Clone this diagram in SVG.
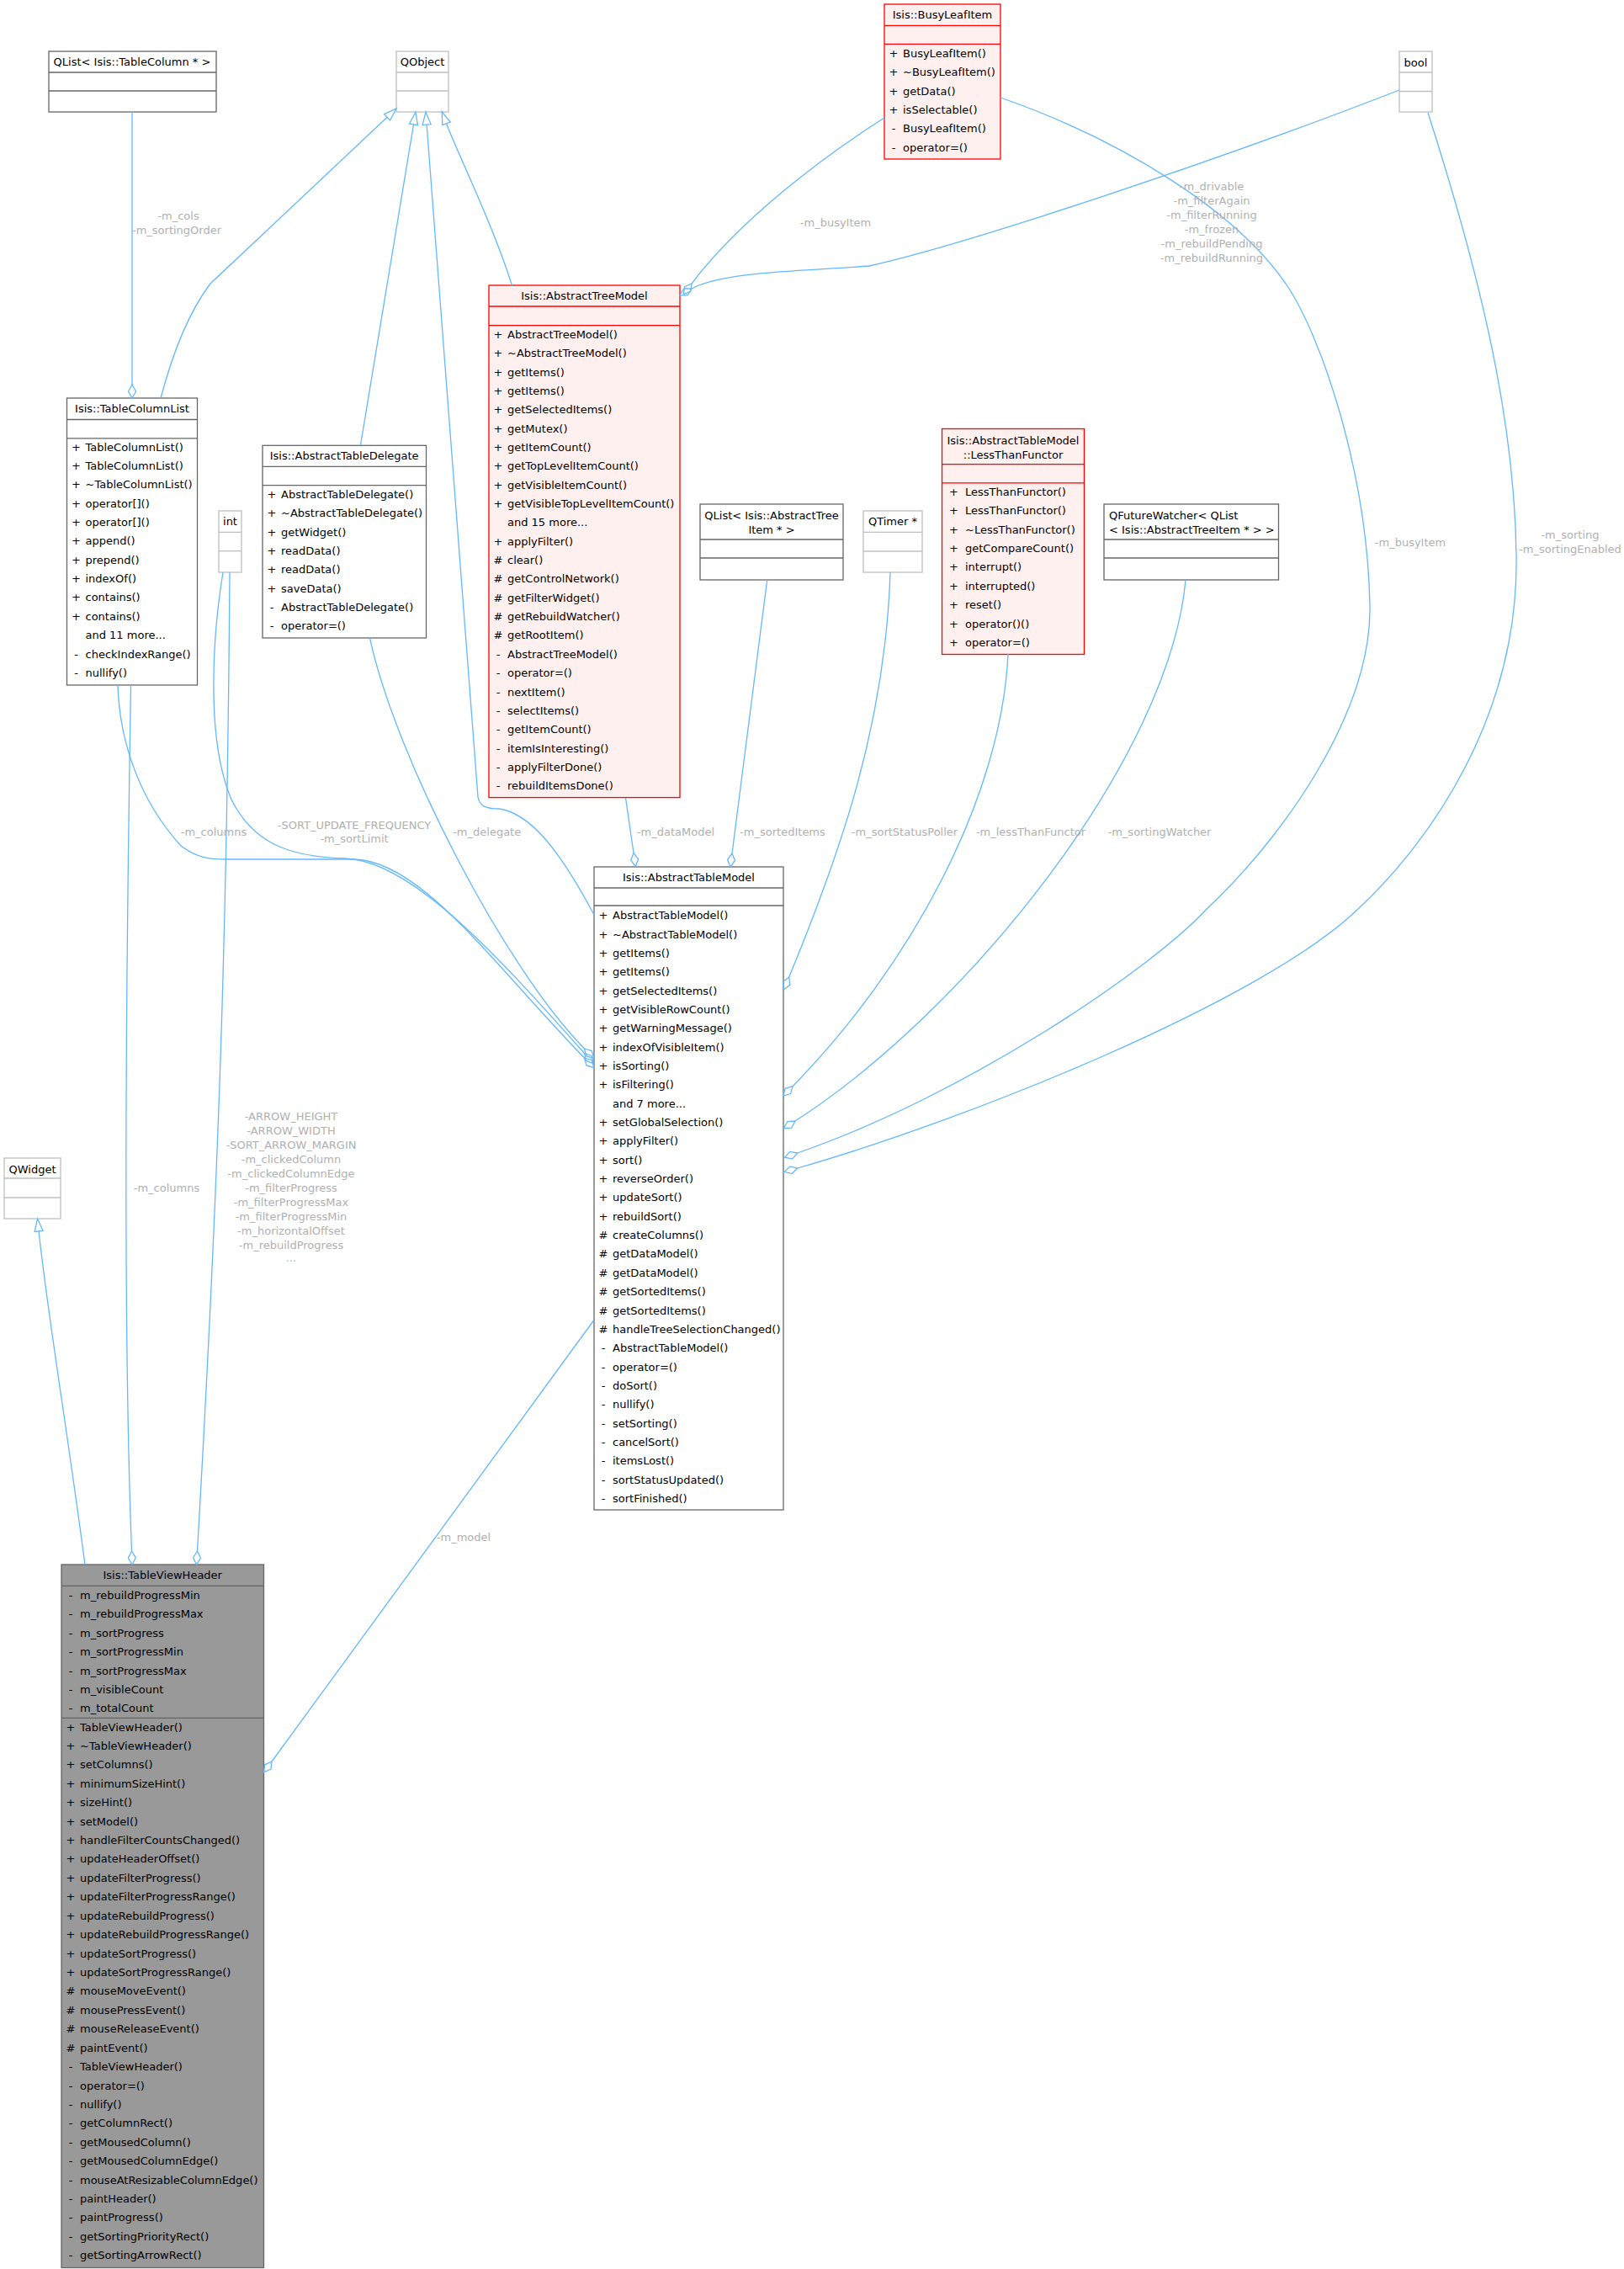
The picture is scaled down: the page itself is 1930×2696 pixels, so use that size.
<svg xmlns="http://www.w3.org/2000/svg" width="1930" height="2696" viewBox="0 0 1930 2696">
<style>
text{font-family:"DejaVu Sans","Liberation Sans",sans-serif;font-size:13px;fill:#000}
.c{text-anchor:middle}
.s{text-anchor:middle}
.nb{fill:#fff;stroke:#666;stroke-width:1.3}
.ng{fill:#fff;stroke:#bfbfbf;stroke-width:1.3}
.nr{fill:#fff0f0;stroke:#ff0000;stroke-width:1.3}
.nd{fill:#999;stroke:#666;stroke-width:1.3}
.lb{stroke:#666;stroke-width:1.3}
.lg{stroke:#bfbfbf;stroke-width:1.3}
.lr{stroke:#ff0000;stroke-width:1.3}
.e{fill:none;stroke:#63b8ff;stroke-width:1.3}
.dia{marker-end:url(#dia)}
.tri{marker-end:url(#tri)}
.lbl{fill:#b0b0b0;text-anchor:middle}
</style>
<defs>
<marker id="dia" markerUnits="userSpaceOnUse" markerWidth="20" markerHeight="12" refX="0" refY="0" orient="auto" style="overflow:visible">
<path d="M0,0 L8,-4.5 L16,0 L8,4.5 Z" fill="none" stroke="#63b8ff" stroke-width="1.3"/>
</marker>
<marker id="tri" markerUnits="userSpaceOnUse" markerWidth="20" markerHeight="12" refX="0" refY="0" orient="auto" style="overflow:visible">
<path d="M0,-5 L15,0 L0,5 Z" fill="#fff" stroke="#63b8ff" stroke-width="1.3"/>
</marker>
</defs>
<rect width="1930" height="2696" fill="#fff"/>

<g id="node-qlist-tablecolumn">
<rect class="nb" x="58" y="61" width="199" height="72"/>
<line class="lb" x1="58" y1="86" x2="257" y2="86"/>
<line class="lb" x1="58" y1="108" x2="257" y2="108"/>
<text class="c" x="157" y="78">QList&lt; Isis::TableColumn * &gt;</text>
</g>

<g id="node-qobject">
<rect class="ng" x="471" y="61" width="62" height="72"/>
<line class="lg" x1="471" y1="86" x2="533" y2="86"/>
<line class="lg" x1="471" y1="108" x2="533" y2="108"/>
<text class="c" x="502" y="78">QObject</text>
</g>

<g id="node-bool">
<rect class="ng" x="1663" y="61" width="39" height="72"/>
<line class="lg" x1="1663" y1="86" x2="1702" y2="86"/>
<line class="lg" x1="1663" y1="108.5" x2="1702" y2="108.5"/>
<text class="c" x="1682.5" y="78.5">bool</text>
</g>

<g id="node-busyleafitem">
<rect class="nr" x="1051" y="5" width="138" height="184"/>
<line class="lr" x1="1051" y1="30.3" x2="1189" y2="30.3"/>
<line class="lr" x1="1051" y1="52.3" x2="1189" y2="52.3"/>
<text class="c" x="1120" y="22">Isis::BusyLeafItem</text>
<text class="s" x="1062" y="67.8">+</text><text x="1073" y="67.8">BusyLeafItem()</text>
<text class="s" x="1062" y="90.2">+</text><text x="1073" y="90.2">~BusyLeafItem()</text>
<text class="s" x="1062" y="112.6">+</text><text x="1073" y="112.6">getData()</text>
<text class="s" x="1062" y="135">+</text><text x="1073" y="135">isSelectable()</text>
<text class="s" x="1062" y="157.4">-</text><text x="1073" y="157.4">BusyLeafItem()</text>
<text class="s" x="1062" y="179.8">-</text><text x="1073" y="179.8">operator=()</text>
</g>

<g id="node-abstracttreemodel">
<rect class="nr" x="581" y="339" width="227" height="608.6"/>
<line class="lr" x1="581" y1="364" x2="808" y2="364"/>
<line class="lr" x1="581" y1="386.7" x2="808" y2="386.7"/>
<text class="c" x="694.5" y="356">Isis::AbstractTreeModel</text>
<text class="s" x="592" y="401.8">+</text><text x="603" y="401.8">AbstractTreeModel()</text>
<text class="s" x="592" y="424.2">+</text><text x="603" y="424.2">~AbstractTreeModel()</text>
<text class="s" x="592" y="446.5">+</text><text x="603" y="446.5">getItems()</text>
<text class="s" x="592" y="468.9">+</text><text x="603" y="468.9">getItems()</text>
<text class="s" x="592" y="491.2">+</text><text x="603" y="491.2">getSelectedItems()</text>
<text class="s" x="592" y="513.6">+</text><text x="603" y="513.6">getMutex()</text>
<text class="s" x="592" y="535.9">+</text><text x="603" y="535.9">getItemCount()</text>
<text class="s" x="592" y="558.3">+</text><text x="603" y="558.3">getTopLevelItemCount()</text>
<text class="s" x="592" y="580.6">+</text><text x="603" y="580.6">getVisibleItemCount()</text>
<text class="s" x="592" y="603">+</text><text x="603" y="603">getVisibleTopLevelItemCount()</text>
<text x="603" y="625.3">and 15 more...</text>
<text class="s" x="592" y="647.7">+</text><text x="603" y="647.7">applyFilter()</text>
<text class="s" x="592" y="670">#</text><text x="603" y="670">clear()</text>
<text class="s" x="592" y="692.4">#</text><text x="603" y="692.4">getControlNetwork()</text>
<text class="s" x="592" y="714.7">#</text><text x="603" y="714.7">getFilterWidget()</text>
<text class="s" x="592" y="737.1">#</text><text x="603" y="737.1">getRebuildWatcher()</text>
<text class="s" x="592" y="759.4">#</text><text x="603" y="759.4">getRootItem()</text>
<text class="s" x="592" y="781.8">-</text><text x="603" y="781.8">AbstractTreeModel()</text>
<text class="s" x="592" y="804.1">-</text><text x="603" y="804.1">operator=()</text>
<text class="s" x="592" y="826.5">-</text><text x="603" y="826.5">nextItem()</text>
<text class="s" x="592" y="848.8">-</text><text x="603" y="848.8">selectItems()</text>
<text class="s" x="592" y="871.2">-</text><text x="603" y="871.2">getItemCount()</text>
<text class="s" x="592" y="893.5">-</text><text x="603" y="893.5">itemIsInteresting()</text>
<text class="s" x="592" y="915.9">-</text><text x="603" y="915.9">applyFilterDone()</text>
<text class="s" x="592" y="938.2">-</text><text x="603" y="938.2">rebuildItemsDone()</text>
</g>

<g id="node-tablecolumnlist">
<rect class="nb" x="79.5" y="473" width="155" height="341"/>
<line class="lb" x1="79.5" y1="498.5" x2="234.5" y2="498.5"/>
<line class="lb" x1="79.5" y1="520.8" x2="234.5" y2="520.8"/>
<text class="c" x="157" y="490">Isis::TableColumnList</text>
<text class="s" x="90.5" y="535.6">+</text><text x="101.5" y="535.6">TableColumnList()</text>
<text class="s" x="90.5" y="558">+</text><text x="101.5" y="558">TableColumnList()</text>
<text class="s" x="90.5" y="580.3">+</text><text x="101.5" y="580.3">~TableColumnList()</text>
<text class="s" x="90.5" y="602.7">+</text><text x="101.5" y="602.7">operator[]()</text>
<text class="s" x="90.5" y="625">+</text><text x="101.5" y="625">operator[]()</text>
<text class="s" x="90.5" y="647.4">+</text><text x="101.5" y="647.4">append()</text>
<text class="s" x="90.5" y="669.7">+</text><text x="101.5" y="669.7">prepend()</text>
<text class="s" x="90.5" y="692.1">+</text><text x="101.5" y="692.1">indexOf()</text>
<text class="s" x="90.5" y="714.4">+</text><text x="101.5" y="714.4">contains()</text>
<text class="s" x="90.5" y="736.8">+</text><text x="101.5" y="736.8">contains()</text>
<text x="101.5" y="759.1">and 11 more...</text>
<text class="s" x="90.5" y="781.5">-</text><text x="101.5" y="781.5">checkIndexRange()</text>
<text class="s" x="90.5" y="803.8">-</text><text x="101.5" y="803.8">nullify()</text>
</g>

<g id="node-int">
<rect class="ng" x="260" y="607" width="27" height="73"/>
<line class="lg" x1="260" y1="632.4" x2="287" y2="632.4"/>
<line class="lg" x1="260" y1="654.7" x2="287" y2="654.7"/>
<text class="c" x="273.5" y="624">int</text>
</g>

<g id="node-abstracttabledelegate">
<rect class="nb" x="312" y="529.3" width="194.5" height="228.7"/>
<line class="lb" x1="312" y1="554.3" x2="506.5" y2="554.3"/>
<line class="lb" x1="312" y1="576.6" x2="506.5" y2="576.6"/>
<text class="c" x="409.2" y="546">Isis::AbstractTableDelegate</text>
<text class="s" x="323" y="591.8">+</text><text x="334" y="591.8">AbstractTableDelegate()</text>
<text class="s" x="323" y="614.2">+</text><text x="334" y="614.2">~AbstractTableDelegate()</text>
<text class="s" x="323" y="636.5">+</text><text x="334" y="636.5">getWidget()</text>
<text class="s" x="323" y="658.9">+</text><text x="334" y="658.9">readData()</text>
<text class="s" x="323" y="681.2">+</text><text x="334" y="681.2">readData()</text>
<text class="s" x="323" y="703.6">+</text><text x="334" y="703.6">saveData()</text>
<text class="s" x="323" y="725.9">-</text><text x="334" y="725.9">AbstractTableDelegate()</text>
<text class="s" x="323" y="748.3">-</text><text x="334" y="748.3">operator=()</text>
</g>

<g id="node-qlist-abstracttreeitem">
<rect class="nb" x="832" y="599" width="170" height="90"/>
<line class="lb" x1="832" y1="641" x2="1002" y2="641"/>
<line class="lb" x1="832" y1="663" x2="1002" y2="663"/>
<text class="c" x="917" y="617">QList&lt; Isis::AbstractTree</text>
<text class="c" x="917" y="634">Item * &gt;</text>
</g>

<g id="node-qtimer">
<rect class="ng" x="1026" y="607" width="70" height="73"/>
<line class="lg" x1="1026" y1="632.3" x2="1096" y2="632.3"/>
<line class="lg" x1="1026" y1="655" x2="1096" y2="655"/>
<text class="c" x="1061" y="624">QTimer *</text>
</g>

<g id="node-lessthanfunctor">
<rect class="nr" x="1119.5" y="509.5" width="169" height="268"/>
<line class="lr" x1="1119.5" y1="551.6" x2="1288.5" y2="551.6"/>
<line class="lr" x1="1119.5" y1="573.8" x2="1288.5" y2="573.8"/>
<text class="c" x="1204" y="527.7">Isis::AbstractTableModel</text>
<text class="c" x="1204" y="544.7">::LessThanFunctor</text>
<text class="s" x="1133.5" y="589">+</text><text x="1147" y="589">LessThanFunctor()</text>
<text class="s" x="1133.5" y="611.4">+</text><text x="1147" y="611.4">LessThanFunctor()</text>
<text class="s" x="1133.5" y="633.7">+</text><text x="1147" y="633.7">~LessThanFunctor()</text>
<text class="s" x="1133.5" y="656.1">+</text><text x="1147" y="656.1">getCompareCount()</text>
<text class="s" x="1133.5" y="678.4">+</text><text x="1147" y="678.4">interrupt()</text>
<text class="s" x="1133.5" y="700.8">+</text><text x="1147" y="700.8">interrupted()</text>
<text class="s" x="1133.5" y="723.1">+</text><text x="1147" y="723.1">reset()</text>
<text class="s" x="1133.5" y="745.5">+</text><text x="1147" y="745.5">operator()()</text>
<text class="s" x="1133.5" y="767.8">+</text><text x="1147" y="767.8">operator=()</text>
</g>

<g id="node-qfuturewatcher">
<rect class="nb" x="1312" y="599" width="207.5" height="90"/>
<line class="lb" x1="1312" y1="641" x2="1519.5" y2="641"/>
<line class="lb" x1="1312" y1="663" x2="1519.5" y2="663"/>
<text x="1318" y="617">QFutureWatcher&lt; QList</text>
<text x="1318" y="634">&lt; Isis::AbstractTreeItem * &gt; &gt;</text>
</g>

<g id="node-abstracttablemodel">
<rect class="nb" x="706" y="1030" width="225" height="764"/>
<line class="lb" x1="706" y1="1055" x2="931" y2="1055"/>
<line class="lb" x1="706" y1="1076" x2="931" y2="1076"/>
<text class="c" x="818.5" y="1047">Isis::AbstractTableModel</text>
<text class="s" x="717" y="1092.1">+</text><text x="728" y="1092.1">AbstractTableModel()</text>
<text class="s" x="717" y="1114.5">+</text><text x="728" y="1114.5">~AbstractTableModel()</text>
<text class="s" x="717" y="1136.8">+</text><text x="728" y="1136.8">getItems()</text>
<text class="s" x="717" y="1159.2">+</text><text x="728" y="1159.2">getItems()</text>
<text class="s" x="717" y="1181.5">+</text><text x="728" y="1181.5">getSelectedItems()</text>
<text class="s" x="717" y="1203.9">+</text><text x="728" y="1203.9">getVisibleRowCount()</text>
<text class="s" x="717" y="1226.2">+</text><text x="728" y="1226.2">getWarningMessage()</text>
<text class="s" x="717" y="1248.6">+</text><text x="728" y="1248.6">indexOfVisibleItem()</text>
<text class="s" x="717" y="1270.9">+</text><text x="728" y="1270.9">isSorting()</text>
<text class="s" x="717" y="1293.3">+</text><text x="728" y="1293.3">isFiltering()</text>
<text x="728" y="1315.6">and 7 more...</text>
<text class="s" x="717" y="1338">+</text><text x="728" y="1338">setGlobalSelection()</text>
<text class="s" x="717" y="1360.3">+</text><text x="728" y="1360.3">applyFilter()</text>
<text class="s" x="717" y="1382.7">+</text><text x="728" y="1382.7">sort()</text>
<text class="s" x="717" y="1405">+</text><text x="728" y="1405">reverseOrder()</text>
<text class="s" x="717" y="1427.4">+</text><text x="728" y="1427.4">updateSort()</text>
<text class="s" x="717" y="1449.7">+</text><text x="728" y="1449.7">rebuildSort()</text>
<text class="s" x="717" y="1472.1">#</text><text x="728" y="1472.1">createColumns()</text>
<text class="s" x="717" y="1494.4">#</text><text x="728" y="1494.4">getDataModel()</text>
<text class="s" x="717" y="1516.8">#</text><text x="728" y="1516.8">getDataModel()</text>
<text class="s" x="717" y="1539.1">#</text><text x="728" y="1539.1">getSortedItems()</text>
<text class="s" x="717" y="1561.5">#</text><text x="728" y="1561.5">getSortedItems()</text>
<text class="s" x="717" y="1583.8">#</text><text x="728" y="1583.8">handleTreeSelectionChanged()</text>
<text class="s" x="717" y="1606.2">-</text><text x="728" y="1606.2">AbstractTableModel()</text>
<text class="s" x="717" y="1628.5">-</text><text x="728" y="1628.5">operator=()</text>
<text class="s" x="717" y="1650.9">-</text><text x="728" y="1650.9">doSort()</text>
<text class="s" x="717" y="1673.2">-</text><text x="728" y="1673.2">nullify()</text>
<text class="s" x="717" y="1695.6">-</text><text x="728" y="1695.6">setSorting()</text>
<text class="s" x="717" y="1717.9">-</text><text x="728" y="1717.9">cancelSort()</text>
<text class="s" x="717" y="1740.3">-</text><text x="728" y="1740.3">itemsLost()</text>
<text class="s" x="717" y="1762.6">-</text><text x="728" y="1762.6">sortStatusUpdated()</text>
<text class="s" x="717" y="1785">-</text><text x="728" y="1785">sortFinished()</text>
</g>

<g id="node-qwidget">
<rect class="ng" x="5" y="1376" width="67" height="72"/>
<line class="lg" x1="5" y1="1400" x2="72" y2="1400"/>
<line class="lg" x1="5" y1="1423" x2="72" y2="1423"/>
<text class="c" x="38.5" y="1393.5">QWidget</text>
</g>

<g id="node-tableviewheader">
<rect class="nd" x="73" y="1859" width="240.5" height="835.5"/>
<line class="lb" x1="73" y1="1884.4" x2="313.5" y2="1884.4"/>
<line class="lb" x1="73" y1="2041.3" x2="313.5" y2="2041.3"/>
<text class="c" x="193.2" y="1876">Isis::TableViewHeader</text>
<text class="s" x="84" y="1899.9">-</text><text x="95" y="1899.9">m_rebuildProgressMin</text>
<text class="s" x="84" y="1922.3">-</text><text x="95" y="1922.3">m_rebuildProgressMax</text>
<text class="s" x="84" y="1944.7">-</text><text x="95" y="1944.7">m_sortProgress</text>
<text class="s" x="84" y="1967.2">-</text><text x="95" y="1967.2">m_sortProgressMin</text>
<text class="s" x="84" y="1989.6">-</text><text x="95" y="1989.6">m_sortProgressMax</text>
<text class="s" x="84" y="2012">-</text><text x="95" y="2012">m_visibleCount</text>
<text class="s" x="84" y="2034.4">-</text><text x="95" y="2034.4">m_totalCount</text>
<text class="s" x="84" y="2056.5">+</text><text x="95" y="2056.5">TableViewHeader()</text>
<text class="s" x="84" y="2078.9">+</text><text x="95" y="2078.9">~TableViewHeader()</text>
<text class="s" x="84" y="2101.3">+</text><text x="95" y="2101.3">setColumns()</text>
<text class="s" x="84" y="2123.8">+</text><text x="95" y="2123.8">minimumSizeHint()</text>
<text class="s" x="84" y="2146.2">+</text><text x="95" y="2146.2">sizeHint()</text>
<text class="s" x="84" y="2168.6">+</text><text x="95" y="2168.6">setModel()</text>
<text class="s" x="84" y="2191">+</text><text x="95" y="2191">handleFilterCountsChanged()</text>
<text class="s" x="84" y="2213.4">+</text><text x="95" y="2213.4">updateHeaderOffset()</text>
<text class="s" x="84" y="2235.9">+</text><text x="95" y="2235.9">updateFilterProgress()</text>
<text class="s" x="84" y="2258.3">+</text><text x="95" y="2258.3">updateFilterProgressRange()</text>
<text class="s" x="84" y="2280.7">+</text><text x="95" y="2280.7">updateRebuildProgress()</text>
<text class="s" x="84" y="2303.1">+</text><text x="95" y="2303.1">updateRebuildProgressRange()</text>
<text class="s" x="84" y="2325.5">+</text><text x="95" y="2325.5">updateSortProgress()</text>
<text class="s" x="84" y="2348">+</text><text x="95" y="2348">updateSortProgressRange()</text>
<text class="s" x="84" y="2370.4">#</text><text x="95" y="2370.4">mouseMoveEvent()</text>
<text class="s" x="84" y="2392.8">#</text><text x="95" y="2392.8">mousePressEvent()</text>
<text class="s" x="84" y="2415.2">#</text><text x="95" y="2415.2">mouseReleaseEvent()</text>
<text class="s" x="84" y="2437.6">#</text><text x="95" y="2437.6">paintEvent()</text>
<text class="s" x="84" y="2460.1">-</text><text x="95" y="2460.1">TableViewHeader()</text>
<text class="s" x="84" y="2482.5">-</text><text x="95" y="2482.5">operator=()</text>
<text class="s" x="84" y="2504.9">-</text><text x="95" y="2504.9">nullify()</text>
<text class="s" x="84" y="2527.3">-</text><text x="95" y="2527.3">getColumnRect()</text>
<text class="s" x="84" y="2549.7">-</text><text x="95" y="2549.7">getMousedColumn()</text>
<text class="s" x="84" y="2572.2">-</text><text x="95" y="2572.2">getMousedColumnEdge()</text>
<text class="s" x="84" y="2594.6">-</text><text x="95" y="2594.6">mouseAtResizableColumnEdge()</text>
<text class="s" x="84" y="2617">-</text><text x="95" y="2617">paintHeader()</text>
<text class="s" x="84" y="2639.4">-</text><text x="95" y="2639.4">paintProgress()</text>
<text class="s" x="84" y="2661.8">-</text><text x="95" y="2661.8">getSortingPriorityRect()</text>
<text class="s" x="84" y="2684.3">-</text><text x="95" y="2684.3">getSortingArrowRect()</text>
</g>

<g id="connectors">
<path class="e dia" d="M157,133 L157,457"/>
<path class="e tri" d="M191,473 C205,420 225,370 250,337 L460.1,139.3"/>
<path class="e tri" d="M428.4,529.3 L491.5,147.8"/>
<path class="e tri" d="M706,1087 C665,1010 630,966 593,961 C578,961 570,958 568,947 L507.1,148"/>
<path class="e tri" d="M608.5,339.3 C585,265 545,185 530.5,146.8"/>
<path class="e dia" d="M1051,140 C980,185 880,260 822,337"/>
<path class="e dia" d="M1663,107 C1450,190 1150,290 1033,316 C960,322 860,322 822,343"/>
<path class="e dia" d="M1189,116 C1330,165 1470,250 1530,340 C1570,400 1625,560 1628,720 C1630,850 1520,1000 1434,1080 C1370,1150 1150,1300 947.7,1370"/>
<path class="e dia" d="M1697,134 C1760,330 1800,500 1802,660 C1805,850 1700,1000 1614,1080 C1500,1190 1150,1330 947.7,1388"/>
<path class="e dia" d="M1058,680 C1052,860 1000,1010 937.7,1161"/>
<path class="e dia" d="M1198,777 C1190,950 1080,1150 942,1290.7"/>
<path class="e dia" d="M1409,689 C1390,900 1150,1200 945,1332"/>
<path class="e dia" d="M911.7,689 L870,1014"/>
<path class="e dia" d="M743.5,948 L753,1013.5"/>
<path class="e dia" d="M140,814 C142,880 165,950 215,1005 C235,1020 250,1021 270,1021 L420,1021 C500,1021 590,1150 694.5,1257"/>
<path class="e dia" d="M265,680 C252,760 245,880 275,950 C300,1000 340,1018 410,1020 C490,1022 595,1140 694.5,1251.5"/>
<path class="e dia" d="M439.5,758 C470,900 600,1150 694.5,1246"/>
<path class="e dia" d="M705.5,1569 L323,2093"/>
<path class="e dia" d="M155.5,814 C149,1200 147,1600 156.5,1843"/>
<path class="e dia" d="M273,680 C270,1100 260,1400 234.5,1843"/>
<path class="e tri" d="M101,1859 C80,1700 55,1550 46.1,1463"/>
<g id="edge-labels">
<text class="lbl" x="212" y="260.5">-m_cols</text>
<text class="lbl" x="210" y="277.5">-m_sortingOrder</text>
<text class="lbl" x="993" y="268.5">-m_busyItem</text>
<text class="lbl" x="1440" y="226">-m_drivable</text>
<text class="lbl" x="1440" y="243">-m_filterAgain</text>
<text class="lbl" x="1440" y="260">-m_filterRunning</text>
<text class="lbl" x="1440" y="277">-m_frozen</text>
<text class="lbl" x="1440" y="294">-m_rebuildPending</text>
<text class="lbl" x="1440" y="311">-m_rebuildRunning</text>
<text class="lbl" x="1676" y="648.5">-m_busyItem</text>
<text class="lbl" x="1866" y="639.5">-m_sorting</text>
<text class="lbl" x="1866" y="656.5">-m_sortingEnabled</text>
<text class="lbl" x="254" y="992.5">-m_columns</text>
<text class="lbl" x="421" y="984.5">-SORT_UPDATE_FREQUENCY</text>
<text class="lbl" x="421" y="1001">-m_sortLimit</text>
<text class="lbl" x="578.7" y="992.5">-m_delegate</text>
<text class="lbl" x="803" y="992.5">-m_dataModel</text>
<text class="lbl" x="930" y="992.5">-m_sortedItems</text>
<text class="lbl" x="1075" y="992.5">-m_sortStatusPoller</text>
<text class="lbl" x="1225" y="992.5">-m_lessThanFunctor</text>
<text class="lbl" x="1378" y="992.5">-m_sortingWatcher</text>
<text class="lbl" x="198" y="1416">-m_columns</text>
<text class="lbl" x="346" y="1331">-ARROW_HEIGHT</text>
<text class="lbl" x="346" y="1348">-ARROW_WIDTH</text>
<text class="lbl" x="346" y="1365">-SORT_ARROW_MARGIN</text>
<text class="lbl" x="346" y="1382">-m_clickedColumn</text>
<text class="lbl" x="346" y="1399">-m_clickedColumnEdge</text>
<text class="lbl" x="346" y="1416">-m_filterProgress</text>
<text class="lbl" x="346" y="1433">-m_filterProgressMax</text>
<text class="lbl" x="346" y="1450">-m_filterProgressMin</text>
<text class="lbl" x="346" y="1467">-m_horizontalOffset</text>
<text class="lbl" x="346" y="1484">-m_rebuildProgress</text>
<text class="lbl" x="346" y="1499">...</text>
<text class="lbl" x="551" y="1830.5">-m_model</text>
</g>
</g>
</svg>
